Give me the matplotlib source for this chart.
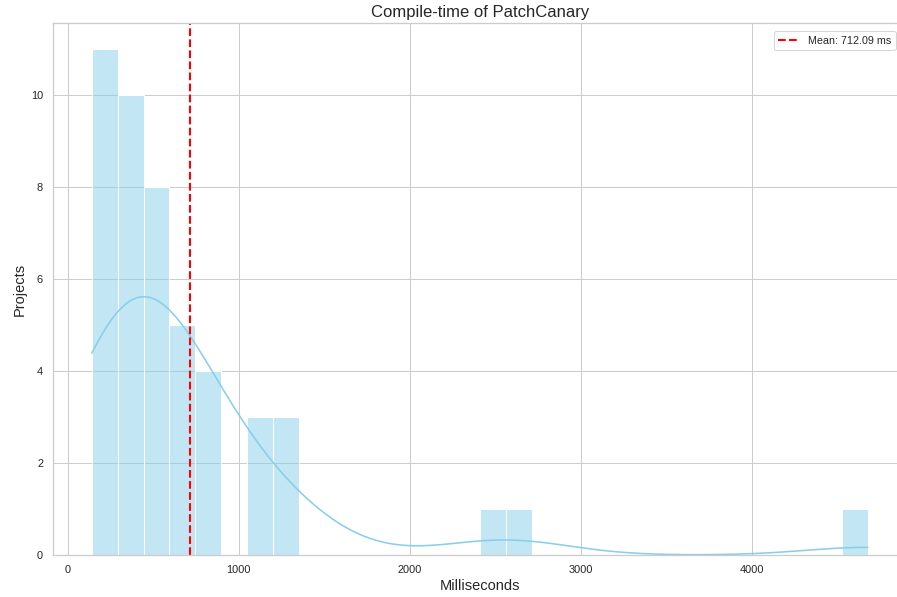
import numpy as np
import pandas as pd
import matplotlib
matplotlib.use("Agg")
import matplotlib.pyplot as plt
import seaborn as sns

# compile times per project (ms), estimated from the histogram bins
compile_ms = [
    140, 152, 168, 185, 197, 210, 224, 238, 251, 266, 280,
    298, 312, 327, 340, 352, 365, 381, 396, 410, 428,
    450, 468, 487, 503, 520, 541, 560, 582,
    605, 628, 652, 681, 713,
    762, 795, 826, 861,
    1065, 1112, 1160,
    1215, 1256, 1318,
    2480, 2630,
    4678,
]
TITLE = "Compile-time of PatchCanary"
XLABEL = "Milliseconds"
YLABEL = "Projects"


def main():
    sns.set_theme(style="whitegrid")
    plt.rcParams["font.family"] = ["Liberation Sans", "DejaVu Sans"]

    data = pd.Series(compile_ms)
    mean = data.mean()

    fig, ax = plt.subplots(figsize=(11.97, 7.96), dpi=75)
    sns.histplot(data, bins=30, kde=True, color="skyblue", alpha=0.5,
                 edgecolor="white", ax=ax)
    ax.axvline(mean, color="red", linestyle="--", linewidth=2,
               label=f"Mean: {mean:.2f} ms")

    ax.set_title(TITLE, fontsize=16)
    ax.set_xlabel(XLABEL, fontsize=14)
    ax.set_ylabel(YLABEL, fontsize=14)
    ax.tick_params(labelsize=10.5)
    # the original picture is cropped a little on the right, keep legend inside
    ax.legend(fontsize=10.3, loc="upper right", borderaxespad=0,
              bbox_to_anchor=(0.987, 0.985))

    fig.subplots_adjust(left=0.059, right=1.010, top=0.961, bottom=0.0704)
    fig.savefig("out.png", dpi=75)


if __name__ == "__main__":
    main()
